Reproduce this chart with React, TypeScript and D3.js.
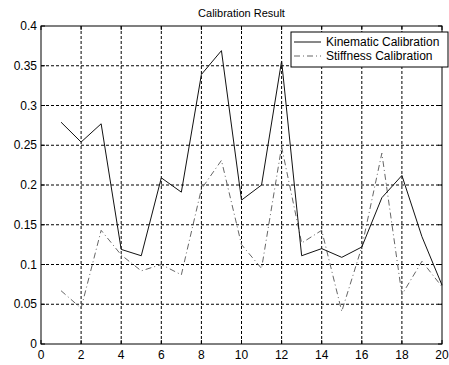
import * as d3 from 'd3';

const xValues = [1, 2, 3, 4, 5, 6, 7, 8, 9, 10, 11, 12, 13, 14, 15, 16, 17, 18, 19, 20];
const kinematic = [0.279, 0.254, 0.277, 0.119, 0.111, 0.209, 0.191, 0.339, 0.369, 0.181, 0.2, 0.356, 0.111, 0.12, 0.109, 0.122, 0.184, 0.212, 0.135, 0.074];
const stiffness = [0.067, 0.045, 0.143, 0.112, 0.092, 0.1, 0.087, 0.195, 0.231, 0.125, 0.095, 0.248, 0.127, 0.143, 0.041, 0.122, 0.24, 0.062, 0.104, 0.072];
const xTicks = [0, 2, 4, 6, 8, 10, 12, 14, 16, 18, 20];
const yTicks = [0, 0.05, 0.1, 0.15, 0.2, 0.25, 0.3, 0.35, 0.4];
const seriesNames = ['Kinematic Calibration', 'Stiffness Calibration'];

const W = 449;
const H = 365;
const margin = { top: 26, right: 7, bottom: 21, left: 41 };
const font = 'Liberation Sans, Arial, sans-serif';

export default function App() {
  const x = d3.scaleLinear().domain([0, 20]).range([margin.left, W - margin.right]);
  const y = d3.scaleLinear().domain([0, 0.4]).range([H - margin.bottom, margin.top]);

  const pts = (vals: number[]) => vals.map((v, i) => [xValues[i], v] as [number, number]);
  const lineGen = d3.line<[number, number]>().x((d) => x(d[0])).y((d) => y(d[1]));

  const x0 = x(0), x1 = x(20), y0 = y(0), y1 = y(0.4);

  // legend box
  const lg = { x: 291, y: 32, w: 157, h: 35 };

  return (
    <div style={{ position: 'fixed', left: 0, top: 0 }}>
      <svg width={W} height={H} style={{ display: 'block', background: '#fff' }}>
        <text x={(x0 + x1) / 2} y={17} textAnchor="middle" fontFamily={font} fontSize={11} fill="#000">
          Calibration Result
        </text>

        {/* grid */}
        {xTicks.slice(1, -1).map((t) => (
          <line key={'gx' + t} x1={x(t)} x2={x(t)} y1={y0} y2={y1} stroke="#000" strokeWidth={1} strokeDasharray="3 2" />
        ))}
        {yTicks.slice(1, -1).map((t) => (
          <line key={'gy' + t} x1={x0} x2={x1} y1={y(t)} y2={y(t)} stroke="#000" strokeWidth={1} strokeDasharray="3 2" />
        ))}

        {/* series */}
        <path d={lineGen(pts(stiffness)) || ''} fill="none" stroke="#666" strokeWidth={1} strokeDasharray="6 3 1 3" />
        <path d={lineGen(pts(kinematic)) || ''} fill="none" stroke="#111" strokeWidth={1} />

        {/* axes box */}
        <rect x={x0} y={y1} width={x1 - x0} height={y0 - y1} fill="none" stroke="#000" strokeWidth={1} />

        {/* ticks + labels */}
        {xTicks.map((t) => (
          <g key={'tx' + t}>
            <line x1={x(t)} x2={x(t)} y1={y0} y2={y0 - 4} stroke="#000" />
            <line x1={x(t)} x2={x(t)} y1={y1} y2={y1 + 4} stroke="#000" />
            <text x={x(t)} y={y0 + 15} textAnchor="middle" fontFamily={font} fontSize={12} fill="#000">
              {t}
            </text>
          </g>
        ))}
        {yTicks.map((t) => (
          <g key={'ty' + t}>
            <line x1={x0} x2={x0 + 4} y1={y(t)} y2={y(t)} stroke="#000" />
            <line x1={x1} x2={x1 - 4} y1={y(t)} y2={y(t)} stroke="#000" />
            <text x={x0 - 4} y={y(t) + 4} textAnchor="end" fontFamily={font} fontSize={12} fill="#000">
              {String(t)}
            </text>
          </g>
        ))}

        {/* legend */}
        <rect x={lg.x} y={lg.y} width={lg.w} height={lg.h} fill="#fff" stroke="#000" strokeWidth={1} />
        <line x1={lg.x + 3} x2={lg.x + 30} y1={lg.y + 10} y2={lg.y + 10} stroke="#111" />
        <line x1={lg.x + 3} x2={lg.x + 30} y1={lg.y + 24} y2={lg.y + 24} stroke="#666" strokeDasharray="6 3 1 3" />
        {seriesNames.map((n, i) => (
          <text key={n} x={lg.x + 35} y={lg.y + 14 + i * 14} fontFamily={font} fontSize={12} fill="#000">
            {n}
          </text>
        ))}
      </svg>
    </div>
  );
}
